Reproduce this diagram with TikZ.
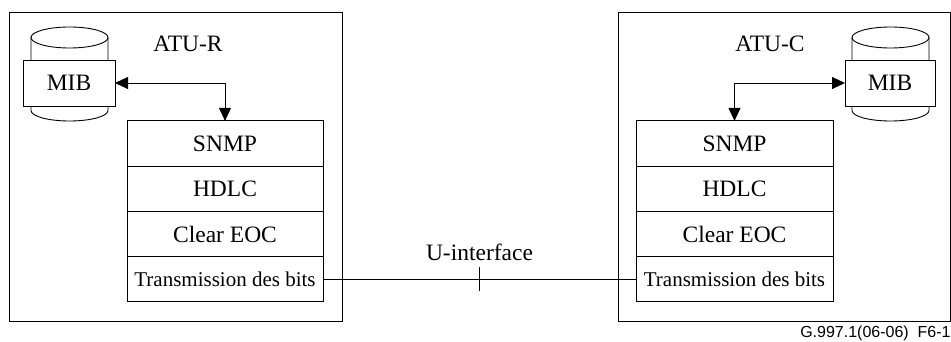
\documentclass[tikz,border=0pt]{standalone}
\usepackage{fontspec}
\setmainfont{Liberation Serif}
\setsansfont{Liberation Sans}
\usetikzlibrary{calc,positioning,arrows.meta}

\begin{document}
\begin{tikzpicture}[x=1pt, y=1pt, line width=0.9pt,
    layer/.style={draw, rectangle, minimum width=196pt, minimum height=45.25pt, inner sep=0pt, outer sep=0pt, font=\fontsize{23.5pt}{28pt}\selectfont},
    mibbox/.style={draw, rectangle, fill=white, minimum height=46pt, inner sep=0pt, outer sep=0pt, font=\fontsize{23.5pt}{28pt}\selectfont},
    biarrow/.style={{Triangle[length=13pt,width=12pt]}-{Triangle[length=13pt,width=12pt]}}]
    \useasboundingbox (0,0) rectangle (951,-342);
    % outer boxes
    \draw (9,-12) rectangle (342,-321);
    \draw (618,-12) rectangle (950,-321);
    \node[font=\fontsize{23.5pt}{28pt}\selectfont] (atuR) at (188,-44) {ATU-R};
    \node[font=\fontsize{23.5pt}{28pt}\selectfont] (atuC) at (770,-44) {ATU-C};
    % MIB cylinders
    \foreach \cx in {69.5, 890.5} {
        \draw (\cx,-37.5) ellipse [x radius=38.5pt, y radius=10.5pt];
        \draw (\cx-38.5,-37.5) -- (\cx-38.5,-110.5) arc [start angle=180, end angle=360, x radius=38.5pt, y radius=10.5pt] -- (\cx+38.5,-37.5);
    }
    \node[mibbox, minimum width=92pt] (mibR) at (69,-83) {MIB};
    \node[mibbox, minimum width=90pt] (mibC) at (890,-83) {MIB};
    % protocol stacks
    \node[layer] (snmpR) at (225,-143.5) {SNMP};
    \node[layer, below=0pt of snmpR] (hdlcR) {HDLC};
    \node[layer, below=0pt of hdlcR] (eocR) {Clear EOC};
    \node[layer, below=0pt of eocR, font=\fontsize{21pt}{25pt}\selectfont] (transR) {Transmission des bits};
    \node[layer, minimum width=197pt] (snmpC) at (734.5,-143.5) {SNMP};
    \node[layer, minimum width=197pt, below=0pt of snmpC] (hdlcC) {HDLC};
    \node[layer, minimum width=197pt, below=0pt of hdlcC] (eocC) {Clear EOC};
    \node[layer, minimum width=197pt, below=0pt of eocC, font=\fontsize{21pt}{25pt}\selectfont] (transC) {Transmission des bits};
    % connectors
    \draw[biarrow] (mibR.east) -| (snmpR.north);
    \draw[biarrow] (mibC.west) -| (snmpC.north);
    \draw (transR.east) -- (transC.west);
    \coordinate (uif) at ($(transR.east)!0.5!(transC.west)$);
    \draw ([yshift=12pt]uif) -- ([yshift=-12pt]uif);
    \node[font=\fontsize{23.5pt}{28pt}\selectfont] (uifLabel) at ([yshift=27pt]uif) {U-interface};
    \node[anchor=base east, font=\sffamily\fontsize{16pt}{19pt}\selectfont, inner sep=0pt] (figno) at (951,-337) {G.997.1(06-06)\ \ F6-1};
\end{tikzpicture}
\end{document}
